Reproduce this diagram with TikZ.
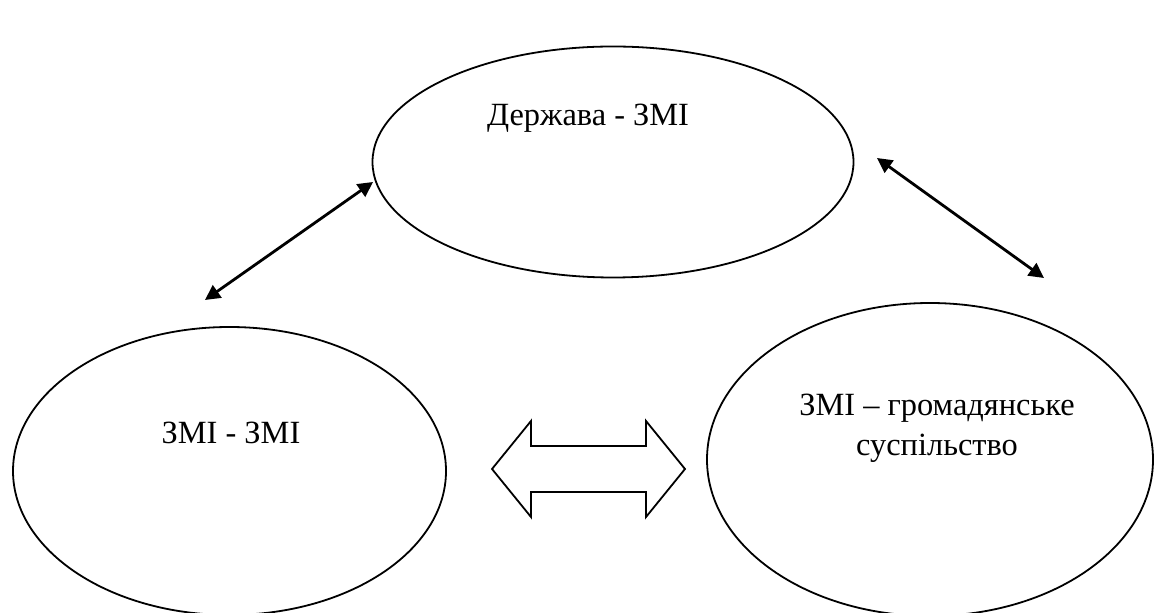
\documentclass[tikz,border=0pt]{standalone}
\usepackage{fontspec}
\setmainfont{Liberation Serif}
\usetikzlibrary{shapes.geometric,arrows.meta,positioning}

\tikzset{
  sphere/.style={draw,ellipse,line width=0.9pt,inner sep=0pt},
  lbl/.style={font=\fontsize{16.2}{20}\selectfont,align=center,inner sep=0pt},
  link/.style={{Triangle[length=7.5pt,width=7.5pt]}-{Triangle[length=7.5pt,width=7.5pt]},line width=1.4pt}
}

\begin{document}
\begin{tikzpicture}[x=0.5pt,y=-0.5pt]
\useasboundingbox (0,0) rectangle (1155,613);

\node[sphere,minimum width=240.5pt,minimum height=115.5pt] (state) at (613,162) {};
\node[sphere,minimum width=216.5pt,minimum height=144pt] (media) at (229.5,471) {};
\node[sphere,minimum width=223pt,minimum height=156.5pt] (society) at (930,459.5) {};

\node[lbl] (statetxt) at (588,118) {Держава - ЗМІ};
\node[lbl] (mediatxt) at (231,433) {ЗМІ - ЗМІ};
\node[lbl] (societytxt) at (937,428) {ЗМІ – громадянське\\суспільство};

\coordinate (s1) at (373,182);
\coordinate (m1) at (205,300);
\coordinate (s2) at (877,158);
\coordinate (c1) at (1044,278);

\draw[link] (m1) -- (s1);
\draw[link] (s2) -- (c1);

%double arrow between the lower ellipses
\coordinate (mid) at (588.5,469);
\draw[line width=0.9pt] (mid) ++(-96.5,0) -- ++(39,-48) -- ++(0,25) -- ++(115,0)
  -- ++(0,-25) -- ++(39,48) -- ++(-39,48) -- ++(0,-25) -- ++(-115,0) -- ++(0,25) -- cycle;
\end{tikzpicture}
\end{document}
